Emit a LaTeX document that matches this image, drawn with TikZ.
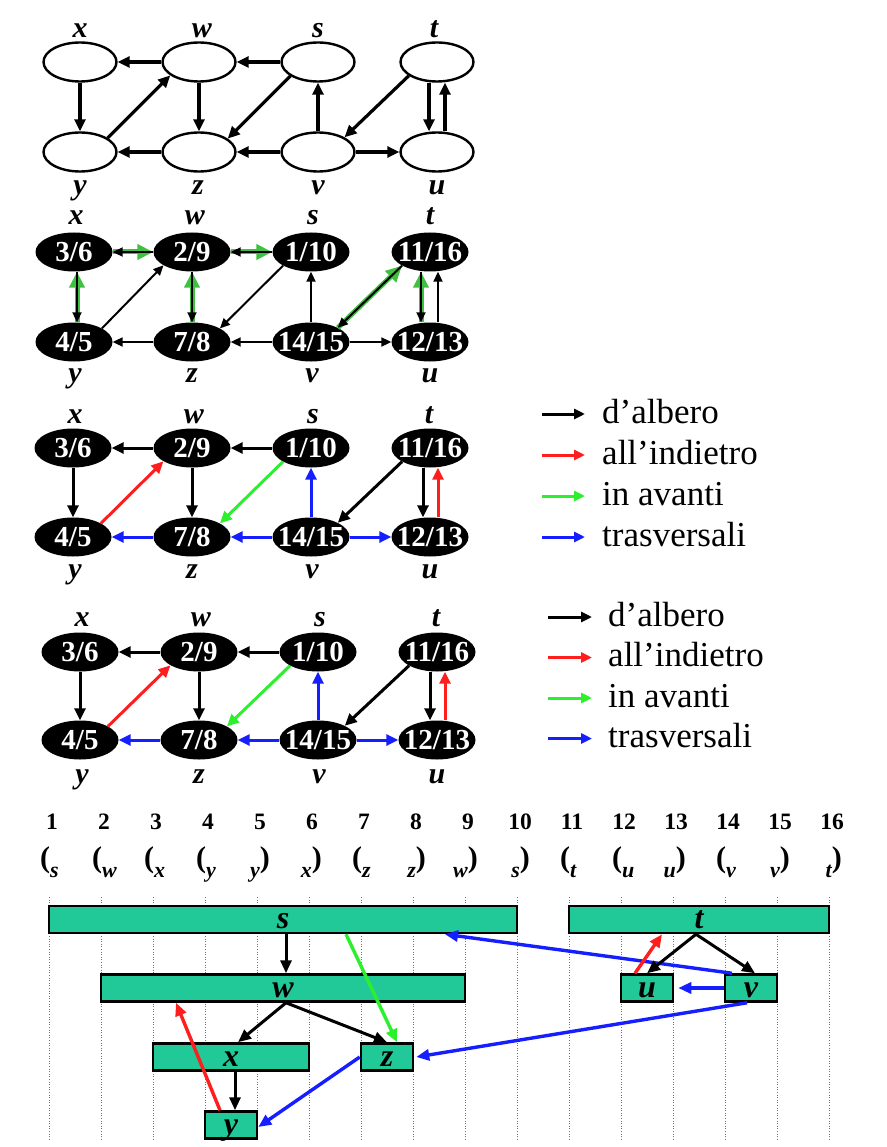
\documentclass[tikz,border=0pt]{standalone}
\usepackage{fontspec}
\setmainfont{Liberation Serif}
\usetikzlibrary{shapes.geometric,arrows.meta}
\definecolor{tealbar}{RGB}{32,201,151}
\definecolor{gA}{RGB}{64,192,64}
\definecolor{gB}{RGB}{45,240,45}
\definecolor{rA}{RGB}{255,30,30}
\definecolor{bA}{RGB}{20,30,255}
\newcommand\fnum{\fontsize{29}{29}\selectfont\bfseries}
\newcommand\flab{\fontsize{30}{30}\selectfont\bfseries\itshape}
\newcommand\fleg{\fontsize{35}{35}\selectfont}
\newcommand\fbar{\fontsize{32}{32}\selectfont\bfseries\itshape}
\newcommand\ftn{\fontsize{23.5}{23.5}\selectfont\bfseries}
\newcommand\fpar{\fontsize{30}{30}\selectfont\bfseries}
\newcommand\nt[1]{\makebox[0pt]{#1}}
\newcommand\subl[1]{{\fontsize{22}{22}\selectfont\itshape\raisebox{-10pt}{#1}}}
\tikzset{
  wnode/.style={ellipse, draw=black, line width=2.4pt, fill=white, minimum width=73pt, minimum height=39pt, inner sep=0pt},
  bnode/.style={ellipse, fill=black, minimum width=77pt, minimum height=39pt, inner sep=0pt, text=white, font=\fnum},
  vlab/.style={anchor=base, inner sep=0pt, font=\flab},
  arone/.style={line width=3.2pt, -{Triangle[length=12pt,width=11pt]}},
  thintwo/.style={line width=2pt, -{Triangle[length=10pt,width=9pt]}},
  grntwo/.style={line width=5pt, color=gA, -{Triangle[length=16pt,width=15pt]}},
  treear/.style={line width=3pt, color=black, -{Triangle[length=12pt,width=11pt]}},
  backar/.style={treear, color=rA},
  fwdar/.style={treear, color=gB},
  crsar/.style={treear, color=bA},
  legt/.style={anchor=base west, inner sep=0pt, font=\fleg},
  legar/.style={line width=3pt, -{Triangle[length=11pt,width=10pt]}},
  gridln/.style={line width=0.8pt, color=black!55, dash pattern=on 1pt off 1.6pt},
  tnum/.style={inner sep=0pt, font=\ftn},
  plab/.style={inner sep=0pt, font=\fpar},
  bar/.style={draw=black, line width=2.5pt, fill=tealbar, minimum height=27pt, inner sep=0pt, text height=18pt, text depth=0pt, font=\fbar},
  barar/.style={line width=3pt, color=black, -{Triangle[length=13pt,width=11pt]}},
  barred/.style={barar, line width=3.4pt, color=rA},
  bargrn/.style={barar, line width=3.4pt, color=gB},
  barblu/.style={barar, line width=3.4pt, color=bA}
}
% colored DFS graph: #1 prefix, #2 x0, #3 ytop, #4 ybot, #5 top label baseline, #6 bottom label baseline
\newcommand\colgraph[6]{%
  \node[bnode] (#1x) at (#2,#3) {\nt{3/6}};
  \node[bnode] (#1w) at (#2+119,#3) {\nt{2/9}};
  \node[bnode] (#1s) at (#2+238,#3) {\nt{1/10}};
  \node[bnode] (#1t) at (#2+357,#3) {\nt{11/16}};
  \node[bnode] (#1y) at (#2,#4) {\nt{4/5}};
  \node[bnode] (#1z) at (#2+119,#4) {\nt{7/8}};
  \node[bnode] (#1v) at (#2+238,#4) {\nt{14/15}};
  \node[bnode] (#1u) at (#2+357,#4) {\nt{12/13}};
  \node[vlab] (#1lx) at (#2+2,#5) {x};
  \node[vlab] (#1lw) at (#2+121,#5) {w};
  \node[vlab] (#1ls) at (#2+240,#5) {s};
  \node[vlab] (#1lt) at (#2+356,#5) {t};
  \node[vlab] (#1ly) at (#2+2,#6) {y};
  \node[vlab] (#1lz) at (#2+119,#6) {z};
  \node[vlab] (#1lv) at (#2+239,#6) {v};
  \node[vlab] (#1lu) at (#2+357,#6) {u};
  \draw[treear] (#1w) -- (#1x);
  \draw[treear] (#1s) -- (#1w);
  \draw[treear] (#1x) -- (#1y);
  \draw[treear] (#1w) -- (#1z);
  \draw[treear] (#1t.206) -- (#1v.28);
  \draw[treear] ([xshift=-7pt]#1t.south) -- ([xshift=-7pt]#1u.north);
  \draw[backar] (#1y.26) -- (#1w.205);
  \draw[backar] ([xshift=8pt]#1u.north) -- ([xshift=8pt]#1t.south);
  \draw[fwdar] (#1s.206) -- (#1z.26);
  \draw[crsar] (#1v) -- (#1s);
  \draw[crsar] (#1z) -- (#1y);
  \draw[crsar] (#1v) -- (#1z);
  \draw[crsar] (#1v) -- (#1u);
}
% legend: #1 prefix, #2 arrow start x, #3 arrow end x, #4 text x, #5 first row y, #6 row step
\newcommand\legendblock[6]{%
  \coordinate (#1a0) at (#2,#5);         \coordinate (#1a1) at (#3,#5);
  \coordinate (#1b0) at (#2,#5+#6);      \coordinate (#1b1) at (#3,#5+#6);
  \coordinate (#1c0) at (#2,#5+2*#6);    \coordinate (#1c1) at (#3,#5+2*#6);
  \coordinate (#1d0) at (#2,#5+3*#6);    \coordinate (#1d1) at (#3,#5+3*#6);
  \node[legt] (#1ta) at (#4,#5+9) {d’albero};
  \node[legt] (#1tb) at (#4,#5+#6+9) {all’indietro};
  \node[legt] (#1tc) at (#4,#5+2*#6+9) {in avanti};
  \node[legt] (#1td) at (#4,#5+3*#6+9) {trasversali};
  \draw[legar, color=black] (#1a0) -- (#1a1);
  \draw[legar, color=rA] (#1b0) -- (#1b1);
  \draw[legar, color=gB] (#1c0) -- (#1c1);
  \draw[legar, color=bA] (#1d0) -- (#1d1);
}
\begin{document}
\begin{tikzpicture}[x=1pt,y=-1pt]
\fill[white] (0,0) rectangle (886,1147);
\useasboundingbox (0,0) rectangle (886,1147);

% ---------- panel 1 ----------
\node[wnode] (x1) at (80,62) {};
\node[wnode] (w1) at (199,62) {};
\node[wnode] (s1) at (318,62) {};
\node[wnode] (t1) at (437,62) {};
\node[wnode] (y1) at (80,152) {};
\node[wnode] (z1) at (199,152) {};
\node[wnode] (v1) at (318,152) {};
\node[wnode] (u1) at (437,152) {};
\node[vlab] (x1l) at (80,38) {x};
\node[vlab] (w1l) at (202,38) {w};
\node[vlab] (s1l) at (318,38) {s};
\node[vlab] (t1l) at (434,38) {t};
\node[vlab] (y1l) at (80,195) {y};
\node[vlab] (z1l) at (198,195) {z};
\node[vlab] (v1l) at (318,195) {v};
\node[vlab] (u1l) at (437,195) {u};
\draw[arone] (w1) -- (x1);
\draw[arone] (s1) -- (w1);
\draw[arone] (x1) -- (y1);
\draw[arone] (y1.27) -- (w1.205);
\draw[arone] (w1) -- (z1);
\draw[arone] (s1.207) -- (z1.25);
\draw[arone] (v1) -- (s1);
\draw[arone] (t1.206) -- (v1.29);
\draw[arone] ([xshift=-8pt]t1.south) -- ([xshift=-8pt]u1.north);
\draw[arone] ([xshift=8pt]u1.north) -- ([xshift=8pt]t1.south);
\draw[arone] (z1) -- (y1);
\draw[arone] (v1) -- (z1);
\draw[arone] (v1) -- (u1);

% ---------- panel 2 ----------
\node[bnode] (x2) at (74,252) {\nt{3/6}};
\node[bnode] (w2) at (192,252) {\nt{2/9}};
\node[bnode] (s2) at (311,252) {\nt{1/10}};
\node[bnode] (t2) at (430,252) {\nt{11/16}};
\node[bnode] (y2) at (74,342) {\nt{4/5}};
\node[bnode] (z2) at (192,342) {\nt{7/8}};
\node[bnode] (v2) at (311,342) {\nt{14/15}};
\node[bnode] (u2) at (430,342) {\nt{12/13}};
\node[vlab] (x2l) at (76,225) {x};
\node[vlab] (w2l) at (195,225) {w};
\node[vlab] (s2l) at (313,225) {s};
\node[vlab] (t2l) at (430,225) {t};
\node[vlab] (y2l) at (75,382) {y};
\node[vlab] (z2l) at (192,382) {z};
\node[vlab] (v2l) at (312,382) {v};
\node[vlab] (u2l) at (430,382) {u};
% green return paths (under)
\draw[grntwo] (x2) -- (w2);
\draw[grntwo] (w2) -- (s2);
\draw[grntwo] ([xshift=3pt]y2.north) -- ([xshift=3pt]x2.south);
\draw[grntwo] (z2) -- (w2);
\draw[grntwo] (v2.28) -- (t2.206);
\draw[grntwo] ([xshift=-9pt]u2.north) -- ([xshift=-9pt]t2.south);
% black edges
\draw[thintwo] (w2) -- (x2);
\draw[thintwo] (s2) -- (w2);
\draw[thintwo] ([xshift=3pt]x2.south) -- ([xshift=3pt]y2.north);
\draw[thintwo] (w2) -- (z2);
\draw[thintwo] (t2.206) -- (v2.28);
\draw[thintwo] ([xshift=-9pt]t2.south) -- ([xshift=-9pt]u2.north);
\draw[thintwo] (y2.26) -- (w2.205);
\draw[thintwo] (s2.206) -- (z2.26);
\draw[thintwo] (v2) -- (s2);
\draw[thintwo] ([xshift=8pt]u2.north) -- ([xshift=8pt]t2.south);
\draw[thintwo] (z2) -- (y2);
\draw[thintwo] (v2) -- (z2);
\draw[thintwo] (v2) -- (u2);

% ---------- panel 3 and 4 ----------
\colgraph{p3}{73}{448}{537}{423}{578}
\legendblock{L3}{542}{585}{602}{414}{41}
\colgraph{p4}{80}{652}{740}{626}{783}
\legendblock{L4}{548}{592}{608}{617}{40.5}

% ---------- time line ----------
\foreach \k in {1,...,16} {
  \draw[gridln] ({49+52*(\k-1)},897) -- ({49+52*(\k-1)},1141);
}
\foreach \k in {1,...,16} {
  \node[tnum] (n\k) at ({52+52*(\k-1)},822) {\k};
}
\foreach \k/\l in {1/s,2/w,3/x,4/y,7/z,11/t,12/u,14/v} {
  \node[plab, anchor=base west] (o\k) at ({40+52*(\k-1)},867) {(\subl{\l}};
}
\foreach \k/\l in {5/y,6/x,8/z,9/w,10/s,13/u,15/v,16/t} {
  \node[plab, anchor=base east] (c\k) at ({62+52*(\k-1)},867) {\subl{\l})};
}

% ---------- interval bars ----------
\node[bar, minimum width=468pt] (S) at (283,919.5) {s};
\node[bar, minimum width=260pt] (T) at (699,919.5) {t};
\node[bar, minimum width=364pt] (W) at (283,988) {w};
\node[bar, minimum width=52pt] (U) at (647,988) {u};
\node[bar, minimum width=52pt] (V) at (751,988) {v};
\node[bar, minimum width=156pt] (X) at (231,1057) {x};
\node[bar, minimum width=52pt] (Z) at (387,1057) {z};
\node[bar, minimum width=52pt] (Y) at (231,1125) {y};

\draw[barar] ([xshift=3pt]S.south) -- ([xshift=3pt]W.north);
\draw[barar] ([xshift=3pt]W.south) -- ([xshift=7pt]X.north);
\draw[barar] ([xshift=3pt]W.south) -- (Z.north);
\draw[barar] ([xshift=4pt]X.south) -- ([xshift=4pt]Y.north);
\draw[bargrn] ([xshift=63pt]S.south) -- ([xshift=10pt]Z.north);
\draw[barred] ([xshift=-11pt]Y.north) -- ([xshift=-107pt]W.south);
\draw[barblu] (Z.west) -- ([yshift=-2pt]Y.east);
\draw[barblu] ([xshift=-4pt]V.south) -- ([xshift=2pt]Z.east);
\draw[barblu] ([xshift=-19pt]V.north) -- ([xshift=162pt]S.south);
\draw[barblu] (V.west) -- ([xshift=4pt]U.east);
\draw[barar] ([xshift=-3pt]T.south) -- (U.north);
\draw[barar] ([xshift=-3pt]T.south) -- ([xshift=4pt]V.north);
\draw[barred] ([xshift=-12pt]U.north) -- ([xshift=-37pt]T.south);
\end{tikzpicture}
\end{document}
